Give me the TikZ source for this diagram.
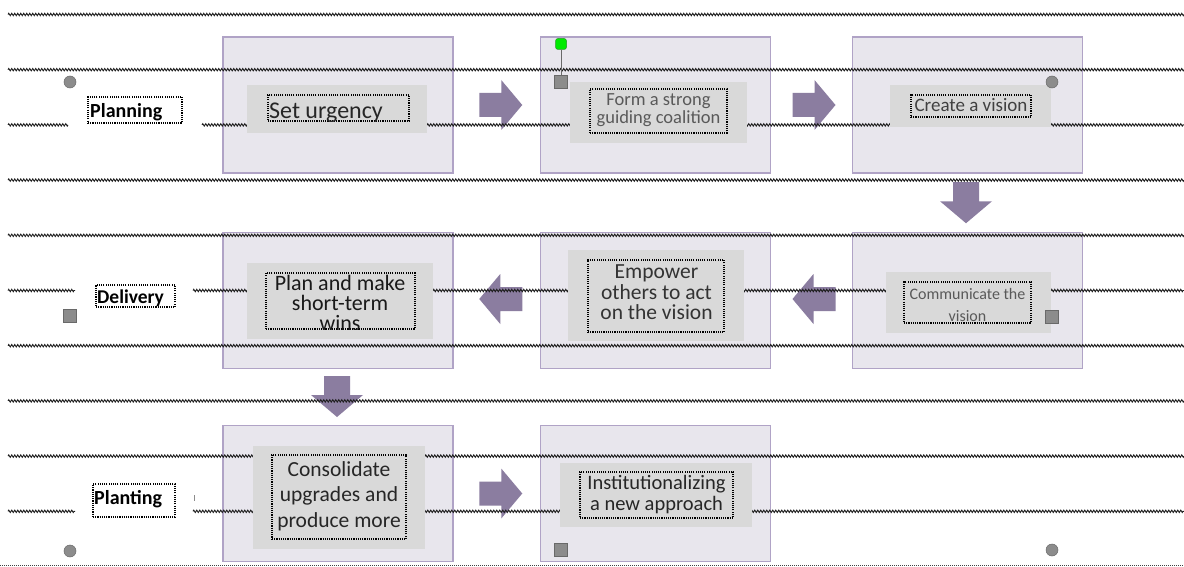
\documentclass[tikz,border=0pt]{standalone}
\usepackage{fontspec}
\setmainfont{Carlito}
\usetikzlibrary{decorations.pathmorphing,fit,calc}
\definecolor{boxfill}{RGB}{232,230,237}
\definecolor{boxline}{RGB}{176,163,198}
\definecolor{grayfill}{RGB}{217,217,217}
\definecolor{arrowc}{RGB}{139,125,160}
\definecolor{handle}{RGB}{140,140,140}
\definecolor{handleline}{RGB}{105,105,105}
\definecolor{wave}{RGB}{30,30,30}
\definecolor{greenh}{RGB}{0,235,0}
\definecolor{greenl}{RGB}{40,150,40}
\definecolor{tdark}{RGB}{38,38,38}
\definecolor{tmid}{RGB}{64,64,64}
\definecolor{tlight}{RGB}{89,89,89}
\begin{document}
\begin{tikzpicture}[x=1pt,y=-1pt,
  outer/.style={draw=boxline, fill=boxfill, line width=1.5pt, minimum width=230pt, minimum height=136pt, inner sep=0pt},
  grayb/.style={fill=grayfill, draw=none, inner sep=0pt},
  dotframe/.style={draw=black, line width=1.1pt, dash pattern=on 1.1pt off 1.1pt, inner sep=0pt},
  wavy/.style={draw=wave, line width=0.9pt, decorate, decoration={zigzag, segment length=3pt, amplitude=1.2pt}},
  mtxt/.style={inner sep=0pt, align=center, anchor=north},
  stxt/.style={inner sep=0pt, anchor=base west},
  hcirc/.style={circle, fill=handle, draw=handleline, line width=0.5pt, minimum size=12pt, inner sep=0pt},
  hsq/.style={rectangle, fill=handle, draw=handleline, line width=0.6pt, minimum size=13pt, inner sep=0pt},
  hgreen/.style={rectangle, rounded corners=2.5pt, fill=greenh, draw=greenl, line width=0.5pt, minimum size=11pt, inner sep=0pt},
  rarrow/.pic={\fill[arrowc] (-21.5,-12) -- (0.5,-12) -- (0.5,-25) -- (21.5,0) -- (0.5,25) -- (0.5,12) -- (-21.5,12) -- cycle;},
  larrow/.pic={\fill[arrowc] (21.5,-12) -- (-0.5,-12) -- (-0.5,-25) -- (-21.5,0) -- (-0.5,25) -- (-0.5,12) -- (21.5,12) -- cycle;},
  darrow/.pic={\fill[arrowc] (-13,-20.5) -- (13,-20.5) -- (13,-1.5) -- (26,-1.5) -- (0,20.5) -- (-26,-1.5) -- (-13,-1.5) -- cycle;}
]
\useasboundingbox (0,0) rectangle (1184,567);
\fill[white] (0,0) rectangle (1184,567);

% outer boxes
\node[outer] (b1) at (338,105) {};
\node[outer] (b2) at (655.5,105) {};
\node[outer] (b3) at (967.5,105) {};
\node[outer] (b4) at (338,300.5) {};
\node[outer] (b5) at (655.5,300.5) {};
\node[outer] (b6) at (967.5,300.5) {};
\node[outer] (b7) at (338,493.5) {};
\node[outer] (b8) at (655.5,493.5) {};

% block arrows
\pic (a12) at ($(b1.east)!0.5!(b2.west)+(4,0)$) {rarrow};
\pic (a23) at ($(b2.east)!0.5!(b3.west)+(2.5,0)$) {rarrow};
\pic (a36) at ($(b3.south)!0.5!(b6.north)+(-1.5,0)$) {darrow};
\pic (a65) at ($(b6.west)!0.5!(b5.east)+(2.5,-1.5)$) {larrow};
\pic (a54) at ($(b5.west)!0.5!(b4.east)+(4,-1.5)$) {larrow};
\pic (a47) at ($(b4.south)!0.5!(b7.north)+(-1,-0.5)$) {darrow};
\pic (a78) at ($(b7.east)!0.5!(b8.west)+(4,0)$) {rarrow};

% wavy lines
\foreach \yy in {14.5,69.7,180.1,235.3,345.7,400.9,456.1}
  \draw[wavy] (8,\yy) -- (1184,\yy);
\draw[wavy] (8,124.9) -- (68,124.9);
\draw[wavy] (202,124.9) -- (1184,124.9);
\draw[wavy] (8,290.5) -- (75,290.5);
\draw[wavy] (193,290.5) -- (1184,290.5);
\draw[wavy] (8,511.3) -- (75,511.3);
\draw[wavy] (193,511.3) -- (1184,511.3);
\draw[black!75, line width=1pt, dash pattern=on 1pt off 1pt] (0,565) -- (1184,565);

% inner gray boxes
\node[grayb, fit={(247,85) (427,133)}] (g1) {};
\node[grayb, fit={(570,82) (747,143)}] (g2) {};
\node[grayb, fit={(890,85) (1051,127)}] (g3) {};
\node[grayb, fit={(247,263) (433,339)}] (g4) {};
\node[grayb, fit={(568,250) (744,341)}] (g5) {};
\node[grayb, fit={(886,272) (1051,333)}] (g6) {};
\node[grayb, fit={(253,446) (425,549)}] (g7) {};
\node[grayb, fit={(560,463) (752,527)}] (g8) {};

% dotted text frames
\node[dotframe, fit={(268,95) (409,121)}] (f1) {};
\node[dotframe, fit={(590,89) (727,133)}] (f2) {};
\node[dotframe, fit={(911,95) (1031,117)}] (f3) {};
\node[dotframe, fit={(266,273) (415,329)}] (f4) {};
\node[dotframe, fit={(588,260) (724,332)}] (f5) {};
\node[dotframe, fit={(904,282) (1031,323)}] (f6) {};
\node[dotframe, fit={(272,455) (406,539)}] (f7) {};
\node[dotframe, fit={(580,472) (733,518)}] (f8) {};
\node[dotframe, fit={(88,97) (182,123)}] (fP) {};
\node[dotframe, fit={(96,285) (175,307)}] (fD) {};
\node[dotframe, fit={(93,484) (175,517)}] (fT) {};

% texts
\begin{scope}\clip (f1.north west) rectangle (f1.south east);
\node[stxt, text=tdark, font={\fontsize{24}{24}\selectfont}] (t1) at (269,118.5) {Set urgency};
\end{scope}
\begin{scope}\clip (f2.north west) rectangle (f2.south east);
\node[mtxt, text=tlight, font={\fontsize{18.5}{18}\selectfont}] (t2) at (658.5,90.2) {\rule{0pt}{0.8em}Form a strong\\guiding coalition};
\end{scope}
\begin{scope}\clip (f3.north west) rectangle (f3.south east);
\node[inner sep=0pt, anchor=base, text=tmid, font={\fontsize{19}{19}\selectfont}] (t3) at (971,112) {Create a vision};
\end{scope}
\begin{scope}\clip (f4.north west) rectangle (f4.south east);
\node[mtxt, text=black!90, font={\fontsize{22}{20}\selectfont}] (t4) at (340,272.4) {\rule{0pt}{0.8em}Plan and make\\short-term\\wins};
\end{scope}
\begin{scope}\clip (f5.north west) rectangle (f5.south east);
\node[mtxt, text=black!80, font={\fontsize{21.5}{20.5}\selectfont}] (t5) at (656.5,261.1) {\rule{0pt}{0.8em}Empower\\others to act\\on the vision};
\end{scope}
\begin{scope}\clip (f6.north west) rectangle (f6.south east);
\node[mtxt, text=tlight, font={\fontsize{16}{22}\selectfont}] (t6) at (967.5,286.7) {\rule{0pt}{0.8em}Communicate the\\vision};
\end{scope}
\begin{scope}\clip (f7.north west) rectangle (f7.south east);
\node[mtxt, text=tdark, font={\fontsize{21.5}{25.5}\selectfont}] (t7) at (339,458.8) {\rule{0pt}{0.8em}Consolidate\\upgrades and\\produce more};
\end{scope}
\begin{scope}\clip (f8.north west) rectangle (f8.south east);
\node[mtxt, text=tdark, font={\fontsize{20.5}{21.7}\selectfont}] (t8) at (656.5,472.6) {\rule{0pt}{0.8em}Institutionalizing\\a new approach};
\end{scope}

\node[stxt, font={\fontsize{20}{20}\selectfont\bfseries}] (lP) at (90,118) {Planning};
\begin{scope}\clip (fD.north west) rectangle (fD.south east);
\node[stxt, font={\fontsize{19.5}{19.5}\selectfont\bfseries}] (lD) at (97,303.5) {Delivery};
\end{scope}
\node[stxt, font={\fontsize{20}{20}\selectfont\bfseries}] (lT) at (94,504.5) {Planting};

% selection handles
\node[hcirc] (hc1) at (70,82) {};
\node[hgreen] (hg) at (561,44) {};
\node[hsq] (hs1) at (561,82) {};
\draw[handleline, line width=0.8pt] (hg) -- (hs1);
\node[hcirc] (hc2) at (1052,82) {};
\node[hsq] (hs2) at (70,316) {};
\node[hsq] (hs3) at (1051.5,316.5) {};
\node[hcirc] (hc3) at (70,551) {};
\node[hsq] (hs4) at (560.5,550) {};
\node[hcirc] (hc4) at (1052,550) {};
\draw[handle, line width=0.8pt] (194,495) -- (194,501);
\end{tikzpicture}
\end{document}
